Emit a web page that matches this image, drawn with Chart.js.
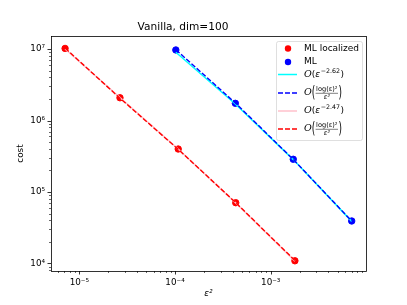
<!DOCTYPE html>
<html>
<head>
<meta charset="utf-8">
<script src="https://cdn.jsdelivr.net/npm/chart.js@4.4.1/dist/chart.umd.min.js"></script>
<style>
  body { margin: 0; background: #fff; }
  #wrap { width: 407px; height: 305px; }
</style>
</head>
<body>
<div id="wrap"><canvas id="chart" width="407" height="305"></canvas></div>
<script>
// eps^2 values and cost
const epsLoc = [7.1e-6, 2.66e-5, 1.08e-4, 4.31e-4, 1.79e-3];
const costLoc = [1.02e7, 2.08e6, 3.99e5, 7.08e4, 1.09e4];
const epsML = [1.02e-4, 4.27e-4, 1.72e-3, 7.02e-3];
const costML = [9.7e6, 1.74e6, 2.87e5, 3.93e4];

// fitted curves at the same eps^2 values
const fitMLPow = [9.0e6, 1.70e6, 2.84e5, 3.88e4];
const fitMLLog = [9.8e6, 1.76e6, 2.86e5, 3.92e4];
const fitLocPow = [1.0e7, 2.1e6, 4.0e5, 7.0e4, 1.08e4];
const fitLocLog = [1.03e7, 2.05e6, 3.95e5, 7.1e4, 1.1e4];

const xTicks = [1e-5, 1e-4, 1e-3];
const yTicks = [1e4, 1e5, 1e6, 1e7];

const FONT = 'DejaVu Sans';
const sup = {'-': '⁻', '0': '⁰', '1': '¹', '2': '²', '3': '³', '4': '⁴', '5': '⁵', '6': '⁶', '7': '⁷', '8': '⁸', '9': '⁹'};
function powLabel(v) {
  const e = Math.round(Math.log10(v));
  return '10' + String(e).split('').map(c => sup[c]).join('');
}
const pts = (xs, ys) => xs.map((x, i) => ({x: x, y: ys[i]}));

// frame + log ticks (major and minor), like matplotlib
const axesDecor = {
  id: 'axesDecor',
  afterDraw(chart) {
    const ctx = chart.ctx, ca = chart.chartArea;
    const sx = chart.scales.x, sy = chart.scales.y;
    ctx.save();
    ctx.strokeStyle = '#000';
    const doTicks = (scale, horiz) => {
      const lo = Math.floor(Math.log10(scale.min)), hi = Math.ceil(Math.log10(scale.max));
      for (let d = lo; d <= hi; d++) {
        for (let m = 1; m < 10; m++) {
          const v = m * Math.pow(10, d);
          if (v < scale.min || v > scale.max) continue;
          const p = Math.round(scale.getPixelForValue(v)) + 0.5;
          const len = m === 1 ? 3.5 : 2;
          ctx.lineWidth = m === 1 ? 0.8 : 0.6;
          ctx.beginPath();
          if (horiz) { ctx.moveTo(p, ca.bottom); ctx.lineTo(p, ca.bottom + len); }
          else { ctx.moveTo(ca.left, p); ctx.lineTo(ca.left - len, p); }
          ctx.stroke();
        }
      }
    };
    doTicks(sx, true);
    doTicks(sy, false);
    ctx.lineWidth = 0.8;
    ctx.strokeRect(Math.round(ca.left) + 0.5, Math.round(ca.top) + 0.5,
      Math.round(ca.right - ca.left), Math.round(ca.bottom - ca.top));
    ctx.restore();
  }
};

// legend drawn inside the axes, with the math labels
const mathLegend = {
  id: 'mathLegend',
  afterDraw(chart) {
    const ctx = chart.ctx;
    const ds = chart.data.datasets;
    const bx = 276, by = 41, bw = 86, bh = 99;
    ctx.save();
    ctx.globalAlpha = 0.8;
    ctx.fillStyle = '#fff';
    ctx.strokeStyle = '#ccc';
    ctx.lineWidth = 0.8;
    ctx.beginPath();
    ctx.roundRect(bx + 0.5, by + 0.5, bw, bh, 2);
    ctx.fill();
    ctx.stroke();
    ctx.globalAlpha = 1;

    const rows = [48.5, 62, 74.5, 93, 111, 129];
    const tx = 304;
    ctx.textBaseline = 'middle';
    ctx.fillStyle = '#000';
    ds.forEach((d, i) => {
      const y = rows[i];
      if (d.label === 'ML localized' || d.label === 'ML') {
        ctx.fillStyle = d.backgroundColor;
        ctx.beginPath();
        ctx.arc(288, y, 3.2, 0, Math.PI * 2);
        ctx.fill();
      } else {
        ctx.strokeStyle = d.borderColor;
        ctx.lineWidth = d.borderWidth;
        ctx.setLineDash(d.borderDash || []);
        ctx.beginPath();
        ctx.moveTo(278, y);
        ctx.lineTo(297, y);
        ctx.stroke();
        ctx.setLineDash([]);
      }
      ctx.fillStyle = '#000';
      ctx.textAlign = 'left';
      if (d.mathKind === 'pow') {
        ctx.font = 'italic 9.5px "DejaVu Serif"';
        let x = tx;
        ctx.fillText('O', x, y); x += ctx.measureText('O').width;
        ctx.font = '9px ' + FONT;
        ctx.fillText('(', x, y); x += ctx.measureText('(').width;
        ctx.font = 'italic 9px ' + FONT;
        ctx.fillText('ε', x, y); x += ctx.measureText('ε').width + 0.5;
        ctx.font = '6.3px ' + FONT;
        ctx.fillText(d.expo, x, y - 3.5); x += ctx.measureText(d.expo).width + 0.5;
        ctx.font = '9px ' + FONT;
        ctx.fillText(')', x, y);
      } else if (d.mathKind === 'frac') {
        ctx.font = 'italic 9.5px "DejaVu Serif"';
        let x = tx;
        ctx.fillText('O', x, y); x += ctx.measureText('O').width;
        ctx.save();
        ctx.translate(x, y);
        ctx.scale(1, 1.7);
        ctx.font = '9px ' + FONT;
        ctx.fillText('(', 0, 0);
        const pw = ctx.measureText('(').width;
        ctx.restore();
        x += pw + 0.3;
        ctx.font = '6.6px ' + FONT;
        const num = 'log(ε)²';
        const nw = ctx.measureText(num).width;
        ctx.textAlign = 'center';
        ctx.fillText(num, x + nw / 2 + 0.5, y - 3.6);
        ctx.font = 'italic 6.6px ' + FONT;
        ctx.fillText('ε²', x + nw / 2 + 0.5, y + 4.4);
        ctx.strokeStyle = '#000';
        ctx.lineWidth = 0.5;
        ctx.beginPath();
        ctx.moveTo(x, y + 0.3);
        ctx.lineTo(x + nw + 1, y + 0.3);
        ctx.stroke();
        x += nw + 1.5;
        ctx.textAlign = 'left';
        ctx.save();
        ctx.translate(x, y);
        ctx.scale(1, 1.7);
        ctx.font = '9px ' + FONT;
        ctx.fillText(')', 0, 0);
        ctx.restore();
      } else {
        ctx.font = '9px ' + FONT;
        ctx.fillText(d.label, tx, y);
      }
    });
    ctx.restore();
  }
};

const data = {
  datasets: [
    {
      label: 'ML localized',
      data: pts(epsLoc, costLoc),
      backgroundColor: 'red',
      borderColor: 'red',
      pointRadius: 3.2,
      showLine: false,
      order: 5
    },
    {
      label: 'ML',
      data: pts(epsML, costML),
      backgroundColor: 'blue',
      borderColor: 'blue',
      pointRadius: 3.2,
      showLine: false,
      order: 5
    },
    {
      label: 'O(eps^-2.62)',
      mathKind: 'pow',
      expo: '−2.62',
      data: pts(epsML, fitMLPow),
      borderColor: '#00ffff',
      borderWidth: 1.5,
      showLine: true,
      pointRadius: 0,
      order: 4
    },
    {
      label: 'O(log(eps)^2/eps^2)',
      mathKind: 'frac',
      data: pts(epsML, fitMLLog),
      borderColor: 'blue',
      borderWidth: 1.4,
      borderDash: [5, 2],
      showLine: true,
      pointRadius: 0,
      order: 3
    },
    {
      label: 'O(eps^-2.47)',
      mathKind: 'pow',
      expo: '−2.47',
      data: pts(epsLoc, fitLocPow),
      borderColor: 'pink',
      borderWidth: 1.5,
      showLine: true,
      pointRadius: 0,
      order: 2
    },
    {
      label: 'O(log(eps)^2/eps^2) loc',
      mathKind: 'frac',
      data: pts(epsLoc, fitLocLog),
      borderColor: 'red',
      borderWidth: 1.4,
      borderDash: [5, 2],
      showLine: true,
      pointRadius: 0,
      order: 1
    }
  ]
};

const config = {
  type: 'scatter',
  data: data,
  options: {
    responsive: false,
    animation: false,
    devicePixelRatio: 1,
    layout: { padding: { top: 0, left: 0, right: 41, bottom: 0 } },
    plugins: {
      legend: { display: false },
      tooltip: { enabled: false },
      title: {
        display: true,
        text: 'Vanilla, dim=100',
        color: '#000',
        font: { family: FONT, size: 10.6, weight: 'normal' },
        padding: { top: 21, bottom: 2.3 }
      }
    },
    scales: {
      x: {
        type: 'logarithmic',
        min: 5.06e-6,
        max: 9.9e-3,
        afterBuildTicks: s => { s.ticks = xTicks.map(v => ({value: v})); },
        afterFit: s => { s.height = 34; },
        grid: { display: false, drawTicks: false },
        border: { display: false },
        ticks: {
          padding: 6,
          color: '#000',
          maxRotation: 0,
          font: { family: FONT, size: 8.8 },
          callback: v => powLabel(v)
        },
        title: {
          display: true,
          text: 'ε²',
          color: '#000',
          font: { family: FONT, size: 8.8, style: 'italic' },
          padding: { top: 0, bottom: 6 }
        }
      },
      y: {
        type: 'logarithmic',
        min: 7.85e3,
        max: 1.52e7,
        afterBuildTicks: s => { s.ticks = yTicks.map(v => ({value: v})); },
        afterFit: s => { s.width = 51; },
        grid: { display: false, drawTicks: false },
        border: { display: false },
        ticks: {
          padding: 6,
          color: '#000',
          font: { family: FONT, size: 8.8 },
          callback: v => powLabel(v)
        },
        title: {
          display: true,
          text: 'cost',
          color: '#000',
          font: { family: FONT, size: 8.8 },
          padding: { top: 15.5, bottom: 0 }
        }
      }
    }
  },
  plugins: [axesDecor, mathLegend]
};

const myChart = new Chart(document.getElementById('chart'), config);
</script>
</body>
</html>
